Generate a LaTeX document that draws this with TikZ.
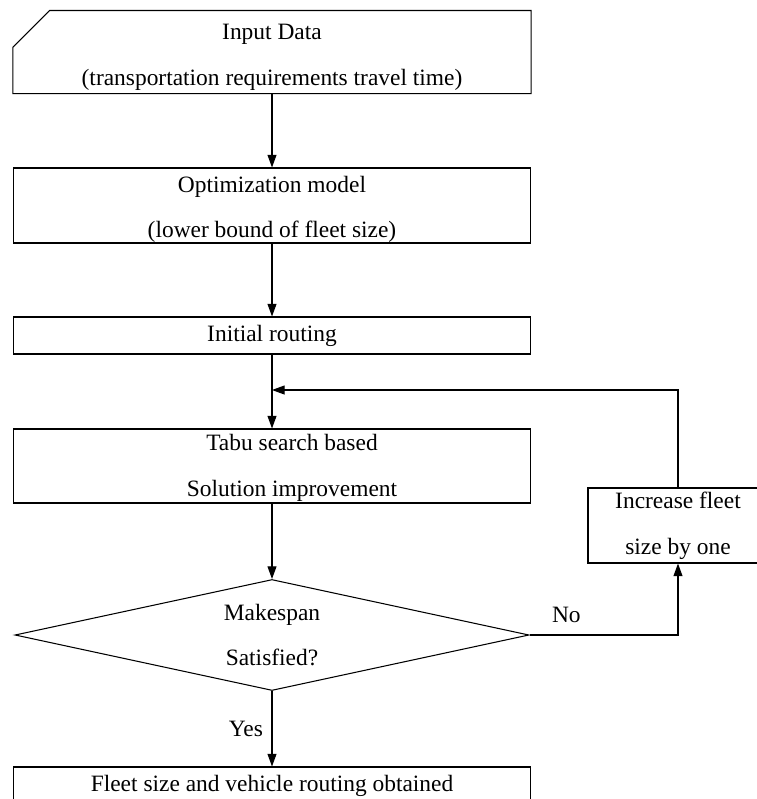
\documentclass[tikz,border=0pt]{standalone}
\usepackage{fontspec}
\setmainfont{Liberation Serif}
\usetikzlibrary{arrows.meta,shapes.geometric}

\begin{document}
\begin{tikzpicture}[x=0.03cm,y=-0.03cm,line width=0.9pt,
  every node/.style={font=\fontsize{20}{39}\selectfont,align=center},
  box/.style={draw,rectangle,minimum width=15.51cm,inner sep=0pt},
  decision/.style={draw,diamond,minimum width=15.42cm,minimum height=3.33cm,inner sep=0pt},
  arrow/.style={-{Triangle[length=3.8mm,width=2.7mm]}}]
 \useasboundingbox (0,0) rectangle (757,799);
 \clip (0,0) rectangle (757,799);
 % main column
 \node (input) [box,draw=none,minimum height=2.46cm] at (272,52) {};
 \node (inputtext) at ([yshift=-0.15cm]input) {Input Data\\(transportation requirements travel time)};
 \draw ([xshift=1.1cm]input.north west) -- (input.north east) -- (input.south east)
   -- (input.south west) -- ([yshift=-1.1cm]input.north west) -- cycle;
 \node (optim) [box,minimum height=2.25cm] at (272,205.5) {};
 \node (optimtext) at ([yshift=-0.12cm]optim) {Optimization model\\(lower bound of fleet size)};
 \node (init) [box,minimum height=1.11cm] at (272,335.5) {Initial routing};
 \node (tabu) [box,minimum height=2.22cm] at (272,466) {};
 \node (tabutext) at ([xshift=0.6cm,yshift=-0.06cm]tabu) {Tabu search based\\Solution improvement};
 \node (dec) [decision] at (272,635) {};
 \node (dectext) at (dec) {Makespan\\Satisfied?};
 \node (final) [box,minimum height=1.14cm] at (272,786) {Fleet size and vehicle routing obtained};
 % loop
 \node (inc) [box,minimum width=5.4cm,minimum height=2.25cm] at (678,525.5) {Increase fleet\\size by one};
 \coordinate (join) at (272,390);
 % arrows
 \draw[arrow] (input) -- (optim);
 \draw[arrow] (optim) -- (init);
 \draw[arrow] (init) -- (tabu);
 \draw[arrow] (tabu) -- (dec);
 \draw[arrow] (dec) -- (final) node[midway,left=4pt] {Yes};
 \draw[arrow] (dec.east) -| (inc.south) node[pos=0.124,above=7pt] {No};
 \draw[arrow] (inc.north) |- (join);
\end{tikzpicture}
\end{document}
